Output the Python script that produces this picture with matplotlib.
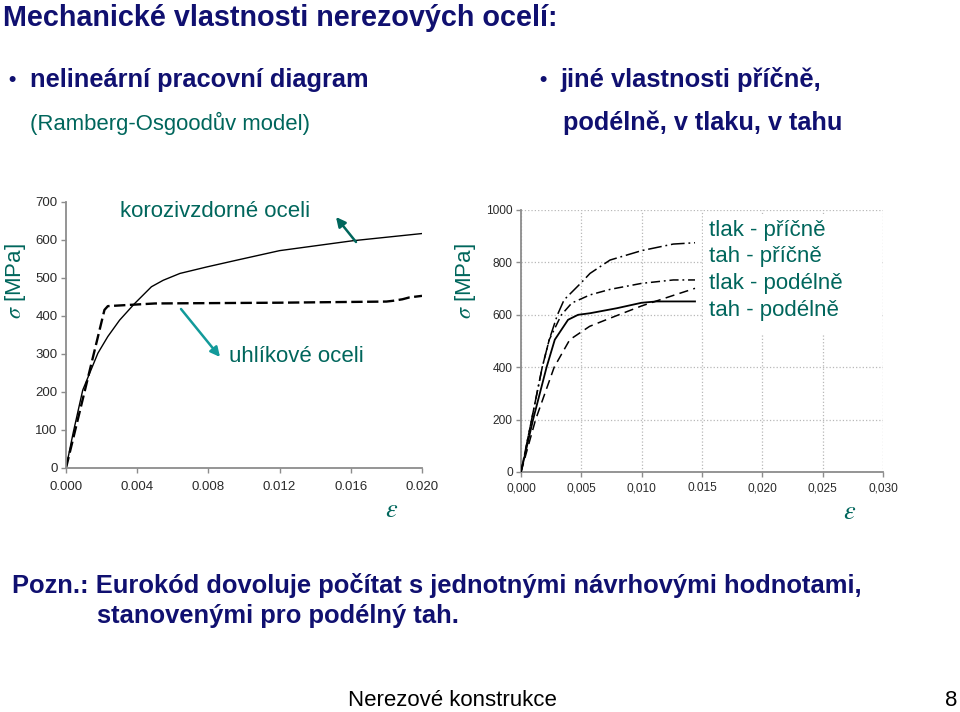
import matplotlib
matplotlib.use("Agg")
import matplotlib.pyplot as plt
from matplotlib.patches import Rectangle

plt.rcParams['font.family'] = ['Liberation Sans', 'DejaVu Sans']
plt.rcParams['mathtext.fontset'] = 'stix'

NAVY = '#101070'
TEAL = '#00665c'
TEAL2 = '#129a9a'

# levy graf - korozivzdorna vs uhlikova ocel
ss_strain = [0, 0.0004, 0.00094, 0.00179, 0.00235, 0.00301, 0.00386, 0.0048, 0.00546,
             0.0064, 0.0079, 0.0096, 0.0120, 0.0161, 0.0200]
ss_stress = [0, 92, 205, 302, 346, 389, 433, 477, 494, 512, 529, 547, 572, 598, 617]
cs_strain = [0, 0.00216, 0.00235, 0.0050, 0.0120, 0.0180, 0.01837, 0.0189, 0.0193, 0.0200]
cs_stress = [0, 416, 426, 433, 435, 438, 440, 444, 449, 453]
left_xticks = [0.000, 0.004, 0.008, 0.012, 0.016, 0.020]
left_xlabels = ['0.000', '0.004', '0.008', '0.012', '0.016', '0.020']
left_yticks = [0, 100, 200, 300, 400, 500, 600, 700]

# pravy graf - smer a druh namahani
tlak_pricne_e = [0, 0.00088, 0.00176, 0.00234, 0.00302, 0.00357, 0.00496, 0.00572,
                 0.00738, 0.0100, 0.01262, 0.01442]
tlak_pricne_s = [0, 200, 400, 505, 600, 657, 721, 758, 809, 845, 870, 875]
tah_pricne_e = [0, 0.00088, 0.00176, 0.00234, 0.00335, 0.00421, 0.00572, 0.00738,
                0.0100, 0.01262, 0.01442]
tah_pricne_s = [0, 200, 400, 505, 600, 645, 676, 697, 720, 733, 733]
tlak_podelne_e = [0, 0.00121, 0.00275, 0.00404, 0.00569, 0.00738, 0.0100, 0.01262, 0.01442]
tlak_podelne_s = [0, 200, 400, 505, 556, 587, 634, 674, 701]
tah_podelne_e = [0, 0.0010, 0.00212, 0.0028, 0.0039, 0.00473, 0.00572, 0.00793,
                 0.0100, 0.01124, 0.01442]
tah_podelne_s = [0, 200, 400, 505, 581, 600, 606, 625, 646, 651, 651]
right_xticks = [0, 0.005, 0.010, 0.015, 0.020, 0.025, 0.030]
right_xlabels = ['0,000', '0,005', '0,010', '0.015', '0,020', '0,025', '0,030']
right_yticks = [0, 200, 400, 600, 800, 1000]
legend_labels = ['tlak - příčně', 'tah - příčně', 'tlak - podélně', 'tah - podélně']

W, H = 960, 712


def fx(px):
    return px / W


def fy(py):
    return 1 - py / H


fig = plt.figure(figsize=(9.6, 7.12), dpi=100)

# ---- levy graf
ax1 = fig.add_axes([fx(66), fy(468), 356 / W, 266 / H])
ax1.plot(ss_strain, ss_stress, color='black', lw=1.0)
ax1.plot(cs_strain, cs_stress, color='black', lw=1.7, dashes=(4.8, 1.9))
ax1.set_xlim(0, 0.020)
ax1.set_ylim(0, 700)
ax1.set_xticks(left_xticks)
ax1.set_xticklabels(left_xlabels)
ax1.set_yticks(left_yticks)

# ---- pravy graf
ax2 = fig.add_axes([fx(521), fy(472), 362 / W, 262 / H])
ax2.set_axisbelow(True)
ax2.grid(True, color='#b8b8b8', ls=':', lw=0.9)
ax2.add_patch(Rectangle((0.0151, 525), 0.0147, 460, facecolor='white',
                        edgecolor='none', zorder=1))
ax2.plot(tlak_pricne_e, tlak_pricne_s, color='black', lw=1.1,
         dashes=(9, 2.5, 1.2, 2.5), zorder=3)
ax2.plot(tah_pricne_e, tah_pricne_s, color='black', lw=1.1,
         dashes=(6, 2.5, 1.2, 2.5), zorder=3)
ax2.plot(tlak_podelne_e, tlak_podelne_s, color='black', lw=1.1,
         dashes=(6, 3.5), zorder=3)
ax2.plot(tah_podelne_e, tah_podelne_s, color='black', lw=1.3, zorder=3)
ax2.set_xlim(0, 0.030)
ax2.set_ylim(0, 1000)
ax2.set_xticks(right_xticks)
ax2.set_xticklabels(right_xlabels)
ax2.set_yticks(right_yticks)

for ax, fs, xpad in ((ax1, 9.5, 5.5), (ax2, 8.6, 4)):
    for s in ('top', 'right'):
        ax.spines[s].set_visible(False)
    for s in ('left', 'bottom'):
        ax.spines[s].set_color('#8c8c8c')
        ax.spines[s].set_linewidth(1.3)
    ax.tick_params(axis='both', colors='#8c8c8c', labelcolor='#2a2a2a',
                   labelsize=fs, length=3.5, width=1.0, pad=2.5)
    ax.tick_params(axis='x', pad=xpad)
    ax.patch.set_alpha(0)

# ---- popisky os
for x in (15, 466):
    fig.text(fx(x), fy(281), r'$\sigma$ [MPa]', rotation=90, ha='center', va='center',
             color=TEAL, fontsize=16)
fig.text(fx(392), fy(510), r'$\varepsilon$', ha='center', va='center', color=TEAL,
         fontsize=19)
fig.text(fx(850), fy(512), r'$\varepsilon$', ha='center', va='center', color=TEAL,
         fontsize=19)

# ---- poznamky v levem grafu
fig.text(fx(120), fy(212), 'korozivzdorné oceli', ha='left', va='center', color=TEAL,
         fontsize=16)
fig.text(fx(229), fy(356), 'uhlíkové oceli', ha='left', va='center', color=TEAL,
         fontsize=16)
fig.add_artist(plt.Annotation('', xy=(fx(336), fy(217)), xytext=(fx(356), fy(242)),
                              xycoords='figure fraction', textcoords='figure fraction',
                              arrowprops=dict(arrowstyle='-|>', color=TEAL, lw=1.8,
                                              mutation_scale=14, shrinkA=0, shrinkB=0)))
fig.add_artist(plt.Annotation('', xy=(fx(220), fy(357)), xytext=(fx(181), fy(309)),
                              xycoords='figure fraction', textcoords='figure fraction',
                              arrowprops=dict(arrowstyle='-|>', color=TEAL2, lw=1.8,
                                              mutation_scale=14, shrinkA=0, shrinkB=0)))

# ---- legenda v pravem grafu
for i, lab in enumerate(legend_labels):
    fig.text(fx(709), fy(230 + i * 26.7), lab, ha='left', va='center', color=TEAL,
             fontsize=16)

# ---- texty slajdu
fig.text(fx(3), fy(18), 'Mechanické vlastnosti nerezových ocelí:', ha='left',
         va='center', color=NAVY, fontsize=20.7, fontweight='bold')
fig.text(fx(8), fy(80), '•', ha='left', va='center', color=NAVY, fontsize=15,
         fontweight='bold')
fig.text(fx(30), fy(80), 'nelineární pracovní diagram', ha='left', va='center',
         color=NAVY, fontsize=18.3, fontweight='bold')
fig.text(fx(30), fy(123), '(Ramberg-Osgoodův model)', ha='left', va='center',
         color=TEAL, fontsize=15.9)
fig.text(fx(539), fy(80), '•', ha='left', va='center', color=NAVY, fontsize=15,
         fontweight='bold')
fig.text(fx(560), fy(80), 'jiné vlastnosti příčně,', ha='left', va='center',
         color=NAVY, fontsize=18.4, fontweight='bold')
fig.text(fx(563), fy(123), 'podélně, v tlaku, v tahu', ha='left', va='center',
         color=NAVY, fontsize=18.2, fontweight='bold')
fig.text(fx(12), fy(585), 'Pozn.: Eurokód dovoluje počítat s jednotnými návrhovými hodnotami,',
         ha='left', va='center', color=NAVY, fontsize=18.4, fontweight='bold')
fig.text(fx(97), fy(616), 'stanovenými pro podélný tah.', ha='left', va='center',
         color=NAVY, fontsize=18.4, fontweight='bold')
fig.text(fx(452), fy(700), 'Nerezové konstrukce', ha='center', va='center',
         color='black', fontsize=16)
fig.text(fx(951), fy(700), '8', ha='center', va='center', color='black',
         fontsize=16)

fig.savefig('out.png', dpi=100)
